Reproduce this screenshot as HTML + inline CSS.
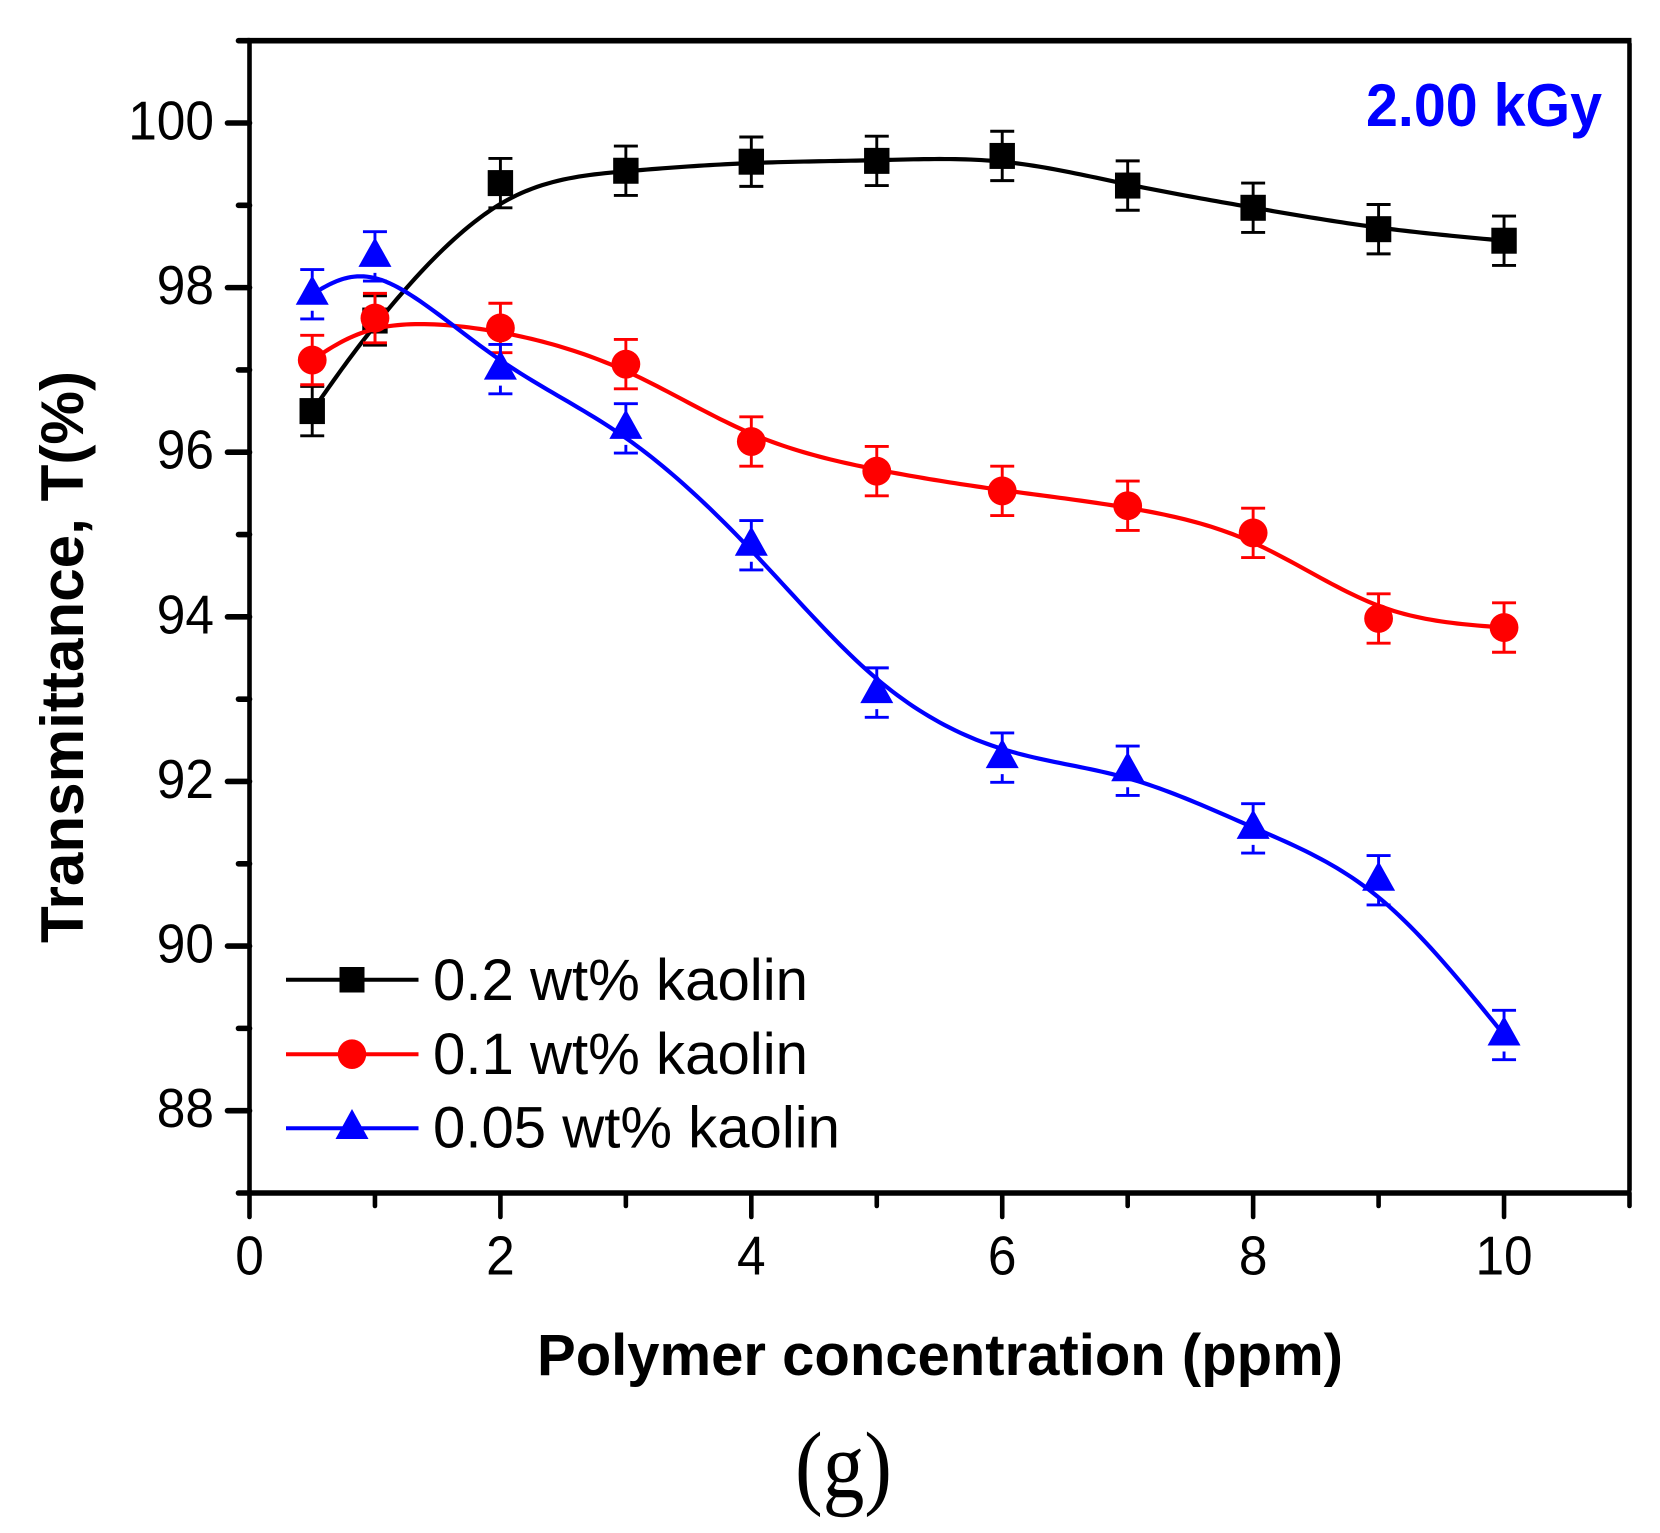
<!DOCTYPE html>
<html lang="en">
<head>
<meta charset="utf-8">
<title>Transmittance vs polymer concentration</title>
<style>
html,body{margin:0;padding:0;background:#fff;width:1660px;height:1533px;overflow:hidden}
svg{display:block}
text{font-family:"Liberation Sans",Arial,sans-serif;fill:#000}
</style>
</head>
<body>
<svg id="chart" xmlns="http://www.w3.org/2000/svg" width="1660" height="1533" viewBox="0 0 1660 1533">
  <rect x="0" y="0" width="1660" height="1533" fill="#fff"/>
  <g id="series-layer"></g>
  <g id="axis-layer"></g>
  <text transform="translate(83,943) rotate(-90)" font-size="60" font-weight="700" textLength="572" lengthAdjust="spacingAndGlyphs">Transmittance, T(%)</text>
  <text x="537" y="1375" font-size="58" font-weight="700" textLength="806" lengthAdjust="spacingAndGlyphs">Polymer concentration (ppm)</text>
  <text x="1366" y="126" font-size="60" font-weight="700" style="fill:#0000ff" textLength="236" lengthAdjust="spacingAndGlyphs">2.00 kGy</text>
  <text x="795" y="1497" font-size="94" textLength="97" lengthAdjust="spacingAndGlyphs" style="font-family:'Liberation Serif','Times New Roman',serif">(g)</text>
  <g id="legend">
    <line x1="286" y1="979.7" x2="418.5" y2="979.7" stroke="#000" stroke-width="4"/>
    <rect x="339.5" y="967" width="25" height="25.5" fill="#000"/>
    <text x="433" y="999.8" font-size="58" textLength="375" lengthAdjust="spacingAndGlyphs">0.2 wt% kaolin</text>
    <line x1="286" y1="1054.2" x2="418.5" y2="1054.2" stroke="#ff0000" stroke-width="4"/>
    <ellipse cx="352" cy="1054.2" rx="14.2" ry="14.8" fill="#ff0000"/>
    <text x="433" y="1074" font-size="58" textLength="375" lengthAdjust="spacingAndGlyphs">0.1 wt% kaolin</text>
    <line x1="286" y1="1128.2" x2="418.5" y2="1128.2" stroke="#0000ff" stroke-width="4"/>
    <polygon points="352,1109 368.5,1139 335.5,1139" fill="#0000ff"/>
    <text x="433" y="1147.5" font-size="58" textLength="407" lengthAdjust="spacingAndGlyphs">0.05 wt% kaolin</text>
  </g>
</svg>
<script>
// ----- chart data -----
const concentrations = [0.5, 1, 2, 3, 4, 5, 6, 7, 8, 9, 10];
const kaolin02 = [96.50, 97.60, 99.27, 99.42, 99.53, 99.54, 99.60, 99.24, 98.97, 98.71, 98.57];
const kaolin01 = [97.12, 97.63, 97.51, 97.07, 96.13, 95.77, 95.53, 95.35, 95.02, 93.98, 93.87];
const kaolin005 = [97.92, 98.38, 97.01, 96.29, 94.87, 93.08, 92.29, 92.13, 91.43, 90.80, 88.92];
const err02 = [0.30, 0.30, 0.30, 0.30, 0.30, 0.30, 0.30, 0.30, 0.30, 0.30, 0.30];
const err01 = [0.30, 0.30, 0.30, 0.30, 0.30, 0.30, 0.30, 0.30, 0.30, 0.30, 0.30];
const err005 = [0.30, 0.30, 0.30, 0.30, 0.30, 0.30, 0.30, 0.30, 0.30, 0.30, 0.30];
const xMajorTicks = [0, 2, 4, 6, 8, 10];
const xMinorTicks = [1, 3, 5, 7, 9, 11];
const yMajorTicks = [88, 90, 92, 94, 96, 98, 100];
const yMinorTicks = [87, 89, 91, 93, 95, 97, 99, 101];

// ----- axis functions -----
const xDomain = [0, 11], xRange = [249.5, 1629.5];
const yDomain = [87, 101], yRange = [1193, 40.7];
function xScale(v) { return xRange[0] + (v - xDomain[0]) / (xDomain[1] - xDomain[0]) * (xRange[1] - xRange[0]); }
function yScale(v) { return yRange[0] + (v - yDomain[0]) / (yDomain[1] - yDomain[0]) * (yRange[1] - yRange[0]); }

const NS = 'http://www.w3.org/2000/svg';
function make(tag, parent, geometry) {
  const el = document.createElementNS(NS, tag);
  for (const k in geometry) el.setAttribute(k, geometry[k]);
  parent.appendChild(el);
  return el;
}

// Uniform cubic B-spline with the data as control points; phantom end points make it meet the end values
function bsplinePath(xs, ys) {
  const n = xs.length;
  function ctrl(vals, i) {
    if (i < 0) return 2 * vals[0] - vals[1];
    if (i >= n) return 2 * vals[n - 1] - vals[n - 2];
    return vals[i];
  }
  function evalSpan(vals, i, t) {
    const u = 1 - t;
    return (u * u * u * ctrl(vals, i - 1) +
      (3 * t * t * t - 6 * t * t + 4) * ctrl(vals, i) +
      (-3 * t * t * t + 3 * t * t + 3 * t + 1) * ctrl(vals, i + 1) +
      t * t * t * ctrl(vals, i + 2)) / 6;
  }
  const parts = [];
  for (let i = 0; i < n - 1; i++) {
    for (let s = (i === 0 ? 0 : 1); s <= 24; s++) {
      const t = s / 24;
      const px = xScale(evalSpan(xs, i, t)).toFixed(2);
      const py = yScale(evalSpan(ys, i, t)).toFixed(2);
      parts.push((parts.length === 0 ? 'M' : 'L') + px + ' ' + py);
    }
  }
  return parts.join(' ');
}

// ----- series -----
const seriesLayer = document.getElementById('series-layer');

function drawErrorBars(group, values, errors, color, gap) {
  values.forEach(function (v, i) {
    const cx = xScale(concentrations[i]);
    const top = yScale(v + errors[i]);
    const bottom = yScale(v - errors[i]);
    const cy = yScale(v);
    const bar = make('path', group, {
      d: 'M' + (cx - 12) + ' ' + top + ' H' + (cx + 12) + ' M' + cx + ' ' + top + ' V' + (cy - gap) +
         ' M' + cx + ' ' + (cy + gap) + ' V' + bottom + ' M' + (cx - 12) + ' ' + bottom + ' H' + (cx + 12),
      fill: 'none', stroke: color, 'stroke-width': 2.9
    });
    
    
  });
}

// 0.2 wt% kaolin
const blackGroup = make('g', seriesLayer, {});


drawErrorBars(blackGroup, kaolin02, err02, '#000', 12);
const blackLine = make('path', blackGroup, { d: bsplinePath(concentrations, kaolin02), fill: 'none', stroke: '#000', 'stroke-width': 4.2 });


kaolin02.forEach(function (v, i) {
  const m = make('rect', blackGroup, { x: xScale(concentrations[i]) - 12.7, y: yScale(v) - 13, width: 25.4, height: 26, fill: '#000' });
  
  
});

// 0.1 wt% kaolin
const redGroup = make('g', seriesLayer, {});


drawErrorBars(redGroup, kaolin01, err01, '#ff0000', 13);
const redLine = make('path', redGroup, { d: bsplinePath(concentrations, kaolin01), fill: 'none', stroke: '#ff0000', 'stroke-width': 4.2 });


kaolin01.forEach(function (v, i) {
  const m = make('ellipse', redGroup, { cx: xScale(concentrations[i]), cy: yScale(v), rx: 14.4, ry: 14.4, fill: '#ff0000' });
  
  
});

// 0.05 wt% kaolin
const blueGroup = make('g', seriesLayer, {});


drawErrorBars(blueGroup, kaolin005, err005, '#0000ff', 16.5);
const blueLine = make('path', blueGroup, { d: bsplinePath(concentrations, kaolin005), fill: 'none', stroke: '#0000ff', 'stroke-width': 4.2 });


kaolin005.forEach(function (v, i) {
  const cx = xScale(concentrations[i]), cy = yScale(v);
  const m = make('polygon', blueGroup, { points: cx + ',' + (cy - 19) + ' ' + (cx + 16.5) + ',' + (cy + 10.5) + ' ' + (cx - 16.5) + ',' + (cy + 10.5), fill: '#0000ff' });
  
  
});

// ----- axes -----
const axisLayer = document.getElementById('axis-layer');
const frame = make('rect', axisLayer, {
  x: xRange[0], y: yRange[0], width: xRange[1] - xRange[0], height: yRange[1] - yRange[0],
  fill: 'none', stroke: 'none'
});



const spineLeft = make('line', axisLayer, { x1: xRange[0], y1: yRange[0] - 2.5, x2: xRange[0], y2: yRange[1] + 2.5, stroke: '#000', 'stroke-width': 4.6 });


const spineRight = make('line', axisLayer, { x1: xRange[1], y1: yRange[0] - 2.5, x2: xRange[1], y2: yRange[1] + 2.5, stroke: '#000', 'stroke-width': 4.6 });


const spineTop = make('line', axisLayer, { x1: xRange[0] - 2, y1: yRange[1], x2: xRange[1] + 2, y2: yRange[1], stroke: '#000', 'stroke-width': 5.6 });


const spineBottom = make('line', axisLayer, { x1: xRange[0] - 2, y1: yRange[0], x2: xRange[1] + 2, y2: yRange[0], stroke: '#000', 'stroke-width': 5.6 });



const digitWidth = 28.6;
xMajorTicks.forEach(function (v) {
  const t = make('line', axisLayer, { x1: xScale(v), y1: yRange[0], x2: xScale(v), y2: yRange[0] + 24, stroke: '#000', 'stroke-width': 4.6, 'stroke-linecap': 'round' });
  
  
  const label = String(v);
  const l = make('text', axisLayer, { x: xScale(v), y: 1274.5, 'font-size': 55, 'text-anchor': 'middle', textLength: label.length * digitWidth, lengthAdjust: 'spacingAndGlyphs' });
  l.textContent = label;
  
  
});
xMinorTicks.forEach(function (v) {
  const t = make('line', axisLayer, { x1: xScale(v), y1: yRange[0], x2: xScale(v), y2: yRange[0] + 13, stroke: '#000', 'stroke-width': 4.6, 'stroke-linecap': 'round' });
  
  
});
yMajorTicks.forEach(function (v) {
  const t = make('line', axisLayer, { x1: xRange[0], y1: yScale(v), x2: xRange[0] - 22, y2: yScale(v), stroke: '#000', 'stroke-width': 5.6, 'stroke-linecap': 'round' });
  
  
  const label = String(v);
  const l = make('text', axisLayer, { x: 214, y: yScale(v) + 16.5, 'font-size': 55, 'text-anchor': 'end', textLength: label.length * digitWidth, lengthAdjust: 'spacingAndGlyphs' });
  l.textContent = label;
  
  
});
yMinorTicks.forEach(function (v) {
  const t = make('line', axisLayer, { x1: xRange[0], y1: yScale(v), x2: xRange[0] - 11, y2: yScale(v), stroke: '#000', 'stroke-width': 5.6, 'stroke-linecap': 'round' });
  
  
});
</script>
</body>
</html>
